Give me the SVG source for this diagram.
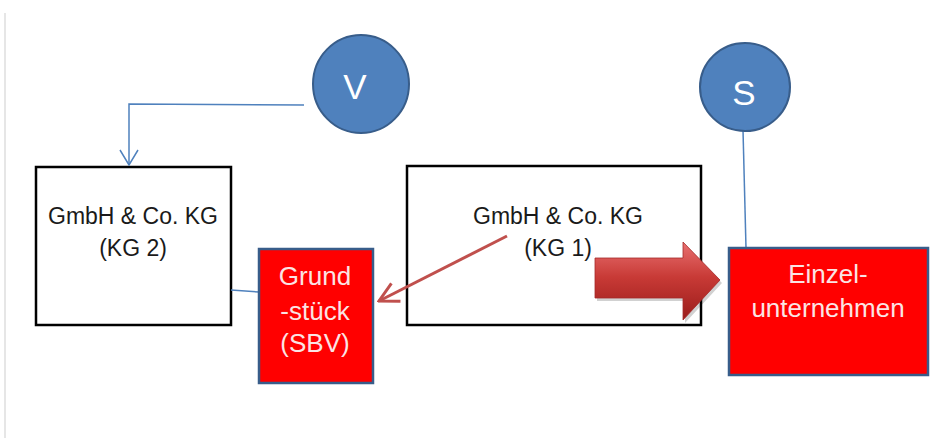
<svg xmlns="http://www.w3.org/2000/svg" width="935" height="438" viewBox="0 0 935 438">
<style>
.box{fill:#fff;stroke:#000;stroke-width:2.5}
.red{fill:#ff0000;stroke:#385d8a;stroke-width:2.5}
.circ{fill:#4f81bd;stroke:#385d8a;stroke-width:2}
.lbl{font-family:"Liberation Sans",Arial,sans-serif;font-size:23px;fill:#1a1a1a;text-anchor:middle}
.wlbl{font-family:"Liberation Sans",Arial,sans-serif;font-size:26px;fill:#fbe4e4;text-anchor:middle}
.clbl{font-family:"Liberation Sans",Arial,sans-serif;font-size:35px;fill:#fff;text-anchor:middle}
.blue{fill:none;stroke:#4f81bd;stroke-width:1.5}
</style>
<defs>
<marker id="openBlue" markerUnits="userSpaceOnUse" viewBox="0 0 20 20" refX="19" refY="10" markerWidth="20" markerHeight="20" orient="auto">
<path d="M4,1 L19,10 L4,19" fill="none" stroke="#4f81bd" stroke-width="1.5"/>
</marker>
<marker id="openRed" markerUnits="userSpaceOnUse" viewBox="0 0 26 26" refX="24" refY="13" markerWidth="26" markerHeight="26" orient="auto">
<path d="M5,3 L24,13 L5,23" fill="none" stroke="#c0504d" stroke-width="3"/>
</marker>
<linearGradient id="arrGrad" x1="0" y1="0" x2="0" y2="1">
<stop offset="0" stop-color="#e87070"/>
<stop offset="0.45" stop-color="#c83a36"/>
<stop offset="1" stop-color="#9a1c1a"/>
</linearGradient>
</defs>
<line x1="5" y1="13" x2="5" y2="438" stroke="#e6e6e6" stroke-width="2"/>
<g id="KG2">
<rect class="box" x="36" y="167" width="195" height="158"/>
<text class="lbl" x="133" y="224">GmbH &amp; Co. KG</text>
<text class="lbl" x="133" y="256">(KG 2)</text>
</g>
<g id="KG1">
<rect class="box" x="407" y="166" width="294" height="159"/>
<text class="lbl" x="558" y="224">GmbH &amp; Co. KG</text>
<text class="lbl" x="558" y="256">(KG 1)</text>
</g>
<g id="connectors">
<polyline class="blue" points="304,105 129,104 129,165" marker-end="url(#openBlue)"/>
<line class="blue" x1="231" y1="290" x2="259" y2="292"/>
<line class="blue" x1="743" y1="130" x2="746" y2="248"/>
<line x1="507" y1="236" x2="379" y2="301" stroke="#c0504d" stroke-width="3" marker-end="url(#openRed)"/>
</g>
<g id="V">
<ellipse class="circ" cx="361" cy="84" rx="48" ry="49"/>
<text class="clbl" x="355" y="99">V</text>
</g>
<g id="S">
<ellipse class="circ" cx="745" cy="87" rx="45" ry="44"/>
<text class="clbl" x="744" y="105">S</text>
</g>
<g id="Grundstueck">
<rect class="red" x="259" y="249" width="114" height="134"/>
<text class="wlbl" x="315" y="285">Grund</text>
<text class="wlbl" x="315" y="320">-stück</text>
<text class="wlbl" x="315" y="352">(SBV)</text>
</g>
<g id="bigArrow">
<polygon points="597,261 685,261 685,245 722,283 685,323 685,301 597,301" fill="#000" opacity="0.18"/>
<polygon points="595,258 683,258 683,242 720,280 683,320 683,298 595,298" fill="url(#arrGrad)" stroke="#a52a28" stroke-width="0.8"/>
</g>
<g id="Einzelunternehmen">
<rect class="red" x="729" y="248" width="199" height="127"/>
<text class="wlbl" x="828" y="283">Einzel-</text>
<text class="wlbl" x="828" y="317">unternehmen</text>
</g>
</svg>
